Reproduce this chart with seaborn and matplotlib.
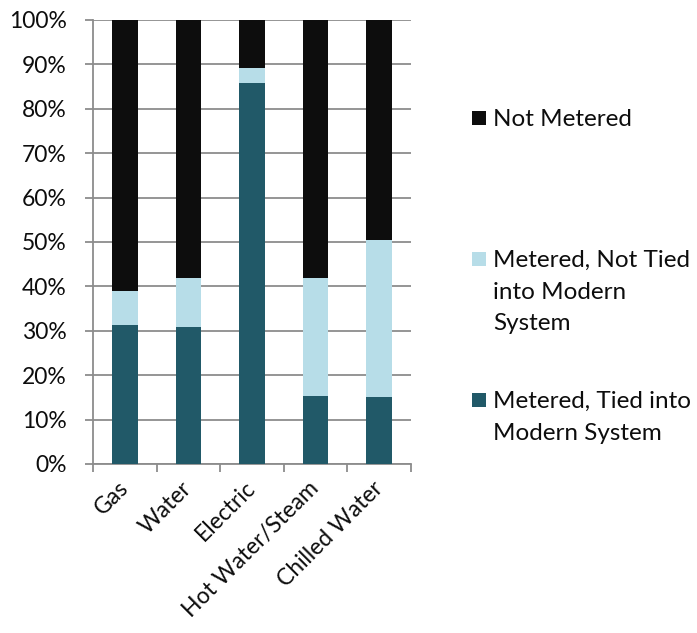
import matplotlib
matplotlib.use("Agg")
import matplotlib.pyplot as plt
from matplotlib.patches import Rectangle
from matplotlib.ticker import FixedLocator, MultipleLocator, PercentFormatter
import seaborn as sns
import pandas as pd

categories = ["Gas", "Water", "Electric", "Hot Water/Steam", "Chilled Water"]
tied = [31.2, 30.8, 85.9, 15.3, 15.1]          # Metered, Tied into Modern System
not_tied = [7.8, 11.2, 3.4, 26.5, 35.3]        # Metered, Not Tied into Modern System
not_metered = [61.0, 58.0, 10.7, 58.2, 49.6]   # Not Metered

series_labels = ["Metered, Tied into\nModern System",
                 "Metered, Not Tied\ninto Modern\nSystem",
                 "Not Metered"]
series_colors = ["#215968", "#B7DDE8", "#0D0D0D"]

sns.set_theme(style="white")
plt.rcParams["font.family"] = ["Lato", "DejaVu Sans"]
FS = 16.5
LEG_FS = 17.5

df = pd.DataFrame({"category": categories, "tied": tied,
                   "not_tied": not_tied, "not_metered": not_metered})
df["lvl1"] = df["tied"]
df["lvl2"] = df["tied"] + df["not_tied"]
df["lvl3"] = df["lvl2"] + df["not_metered"]

fig = plt.figure(figsize=(6.97, 6.33), dpi=100)
ax = fig.add_axes([93 / 697, 1 - 464 / 633, (411 - 93) / 697, (464 - 20) / 633])

# stacked bars: draw cumulative totals from the top segment down
for col, color in zip(["lvl3", "lvl2", "lvl1"], series_colors[::-1]):
    sns.barplot(data=df, x="category", y=col, color=color, width=0.4,
                saturation=1, ax=ax, zorder=3, linewidth=0)

ax.set_xlim(-0.5, len(categories) - 0.5)
ax.set_ylim(0, 100)
ax.yaxis.set_major_locator(MultipleLocator(10))
ax.yaxis.set_major_formatter(PercentFormatter(decimals=0))
ax.grid(axis="y", color="#8C8C8C", linewidth=1.3, zorder=0)
ax.set_axisbelow(True)
ax.set_xlabel("")
ax.set_ylabel("")

for side in ["top", "right"]:
    ax.spines[side].set_visible(False)
for side in ["left", "bottom"]:
    ax.spines[side].set_color("#8C8C8C")
    ax.spines[side].set_linewidth(1.3)

# category boundary tick marks, labels at bar centres
ax.xaxis.set_minor_locator(FixedLocator([i - 0.5 for i in range(len(categories) + 1)]))
ax.tick_params(axis="x", which="minor", length=6, width=1.3, color="#8C8C8C",
               direction="out", bottom=True)
ax.tick_params(axis="x", which="major", length=0, pad=15, labelsize=FS,
               labelcolor="#0D0D0D")
ax.tick_params(axis="y", length=6, width=1.3, color="#8C8C8C", direction="out",
               left=True, pad=13, labelsize=FS, labelcolor="#0D0D0D")
for lab in ax.get_xticklabels():
    lab.set_rotation(45)
    lab.set_ha("right")
    lab.set_va("center")
    lab.set_rotation_mode("anchor")

# legend entries on the right, swatch aligned with the first text line
# (swatch top, text top) in pixels from the top edge
legend_rows = [(series_labels[2], series_colors[2], 111, 109),
               (series_labels[1], series_colors[1], 252, 250),
               (series_labels[0], series_colors[0], 393, 391)]
W, H = 697, 633
for text, color, top, ttop in legend_rows:
    fig.patches.append(Rectangle((472 / W, 1 - (top + 14) / H), 14 / W, 14 / H,
                                 transform=fig.transFigure, facecolor=color,
                                 edgecolor="none"))
    fig.text(493 / W, 1 - ttop / H, text, fontsize=LEG_FS, color="#0D0D0D",
             va="top", ha="left", linespacing=1.62)

fig.savefig("out.png", dpi=100, facecolor="white")
